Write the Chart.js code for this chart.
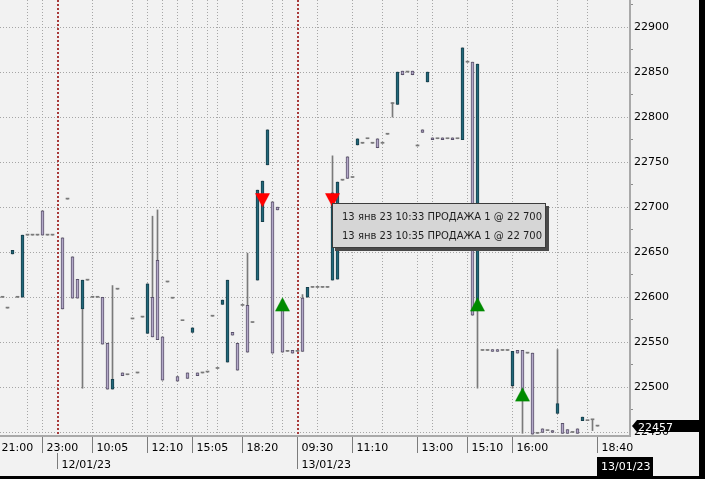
<!DOCTYPE html>
<html>
<head>
<meta charset="utf-8">
<script src="https://cdn.jsdelivr.net/npm/chart.js@4.4.0/dist/chart.umd.min.js"></script>
<style>
  html, body { margin: 0; padding: 0; background: #000; }
  #c { position: absolute; left: 0; top: 0; }
</style>
</head>
<body>
<canvas id="c" width="699" height="476"></canvas>
<script>
// bar slots (5 min bars), 11 has no trades
const barIdx = [0,1,2,3,4,5,6,7,8,9,10,
  12,13,14,15,16,17,18,19,20,21, 22,23,24,25,26,27,28,29,30,31,
  32,33,34,35,36,37,38,39,40,41, 42,43,44,45,46,47,48,49,50,51,
  52,53,54,55,56,57,58,59,60,61, 62,63,64,65,66,67,68,69,70,71,
  72,73,74,75,76,77,78,79,80,81, 82,83,84,85,86,87,88,89,90,91,
  92,93,94,95,96,97,98,99,100,101, 102,103,104,105,106,107,108,109,110,111,
  112,113,114,115,116,117,118,119];

const opens = [22600,22588,22648,22600,22600,22669,22669,22669,22696,22669,22669,
  22666,22709,22645,22620,22587,22619,22600,22600,22600,22549,
  22498,22609,22516,22514,22576,22516,22578,22560,22600,22641,
  22556,22617,22599,22512,22574,22516,22561,22516,22516,22517,
  22579,22521,22592,22528,22561,22549,22591,22591,22572,22619,
  22684,22747,22706,22700,22597,22540,22541,22540,22599,22600,
  22611,22611,22611,22611,22619,22620,22730,22756,22733,22769,
  22771,22776,22771,22776,22771,22781,22815,22814,22851,22850,
  22851,22768,22786,22839,22777,22776,22777,22776,22777,22776,
  22775,22861,22861,22593,22541,22541,22542,22542,22541,22541,
  22502,22541,22541,22538,22538,22449,22454,22452,22452,22471,
  22460,22453,22450,22454,22463,22463,22464,22457];

const highs = [22600,22588,22652,22600,22669,22669,22669,22669,22696,22669,22669,
  22666,22709,22645,22620,22619,22619,22600,22600,22600,22549,
  22613,22609,22516,22514,22576,22516,22578,22615,22690,22697,
  22556,22617,22599,22512,22574,22516,22566,22516,22516,22517,
  22579,22521,22597,22619,22561,22549,22591,22649,22572,22719,
  22729,22786,22706,22700,22597,22540,22541,22540,22603,22611,
  22611,22611,22611,22611,22757,22728,22730,22756,22733,22776,
  22771,22776,22771,22776,22771,22781,22816,22850,22851,22850,
  22851,22768,22786,22850,22777,22776,22777,22776,22777,22776,
  22877,22861,22861,22859,22541,22541,22542,22542,22541,22541,
  22540,22541,22541,22538,22538,22449,22454,22452,22452,22542,
  22460,22453,22450,22454,22467,22463,22464,22457];

const lows = [22600,22588,22648,22600,22600,22669,22669,22669,22669,22669,22669,
  22587,22709,22599,22599,22499,22619,22600,22600,22548,22498,
  22498,22609,22513,22514,22576,22516,22578,22560,22556,22553,
  22508,22617,22599,22507,22574,22510,22561,22513,22516,22517,
  22579,22521,22592,22528,22558,22519,22591,22539,22572,22619,
  22684,22747,22538,22697,22539,22540,22538,22540,22540,22600,
  22611,22611,22611,22611,22619,22620,22730,22732,22733,22769,
  22771,22776,22771,22766,22771,22781,22800,22814,22847,22850,
  22847,22768,22783,22839,22775,22776,22775,22776,22775,22776,
  22775,22861,22580,22499,22541,22541,22540,22540,22541,22541,
  22499,22538,22449,22538,22448,22449,22450,22452,22450,22471,
  22449,22449,22450,22449,22463,22463,22452,22457];

const closes = [22600,22588,22652,22600,22669,22669,22669,22669,22669,22669,22669,
  22587,22709,22599,22599,22619,22619,22600,22600,22548,22498,
  22509,22609,22513,22514,22576,22516,22578,22615,22556,22553,
  22508,22617,22599,22507,22574,22510,22566,22513,22516,22517,
  22579,22521,22597,22619,22558,22519,22591,22539,22572,22719,
  22729,22786,22538,22697,22539,22540,22538,22540,22540,22611,
  22611,22611,22611,22611,22716,22728,22730,22732,22733,22776,
  22771,22776,22771,22766,22771,22781,22815,22850,22847,22850,
  22847,22768,22783,22850,22775,22776,22775,22776,22775,22776,
  22877,22861,22580,22859,22541,22541,22540,22540,22541,22541,
  22540,22538,22497,22538,22448,22449,22450,22452,22450,22482,
  22449,22449,22450,22449,22467,22463,22464,22457];

// trades
const sellIdx = [52, 66];
const sellPrice = [22700, 22700];
const buyIdx = [56, 95, 104];
const buyPrice = [22600, 22600, 22500];
const tradeNotes = ['13 янв 23 10:33 ПРОДАЖА 1 @ 22 700', '13 янв 23 10:35 ПРОДАЖА 1 @ 22 700'];

// axis labels
const timeTickIdx = [-1, 8, 18, 29, 38, 48, 59, 70, 83, 93, 102, 119];
const timeTickText = ['21:00','23:00','10:05','12:10','15:05','18:20','09:30','11:10','13:00','15:10','16:00','18:40'];
const dateTickIdx = [11, 59];
const dateTickText = ['12/01/23', '13/01/23'];
const lastDate = '13/01/23';
const lastPrice = 22457;
const yTicks = [22450,22475,22500,22525,22550,22575,22600,22625,22650,22675,22700,
  22725,22750,22775,22800,22825,22850,22875,22900,22925];
const gridIdx = [5, 8, 18, 26, 29, 32, 35, 38, 41, 43, 48, 54, 56, 63, 70, 76, 83, 86, 93, 102, 111, 117];
const daySplitIdx = [11, 59];

const TEAL = '#22687a', TEAL_EDGE = '#163f4c';
const LILAC = '#b3a8c8', LILAC_EDGE = '#5b536c';
const WICK = '#7a7a7a';

function triangle(up, color) {
  const c = document.createElement('canvas');
  c.width = 15; c.height = 30;
  const g = c.getContext('2d');
  g.fillStyle = color;
  g.beginPath();
  if (up) { g.moveTo(7.5, 15); g.lineTo(15, 29); g.lineTo(0, 29); }
  else { g.moveTo(0, 1); g.lineTo(15, 1); g.lineTo(7.5, 15); }
  g.closePath(); g.fill();
  return c;
}

const dir = i => Math.sign(closes[i] - opens[i]);

const terminal = {
  id: 'terminal',
  beforeDraw(chart) {
    const {ctx, width, height} = chart;
    ctx.save();
    ctx.fillStyle = '#f2f2f2';
    ctx.fillRect(0, 0, width, height);
    ctx.restore();
  },
  beforeDatasetsDraw(chart) {
    const {ctx, chartArea: a, scales: {x}} = chart;
    ctx.save();
    ctx.lineWidth = 1;
    ctx.strokeStyle = '#a6a6a6';
    ctx.setLineDash([1, 2]);
    gridIdx.forEach(i => {
      const px = x.getPixelForValue(i);
      ctx.beginPath(); ctx.moveTo(px, a.top); ctx.lineTo(px, a.bottom); ctx.stroke();
    });
    ctx.lineWidth = 2;
    ctx.strokeStyle = '#a83a3a';
    ctx.setLineDash([2, 2]);
    daySplitIdx.forEach(i => {
      const px = Math.round(x.getPixelForValue(i));
      ctx.beginPath(); ctx.moveTo(px, a.top); ctx.lineTo(px, a.bottom); ctx.stroke();
    });
    ctx.restore();
  },
  afterDatasetsDraw(chart) {
    const {ctx} = chart;
    const bx = 332, by = 203, bw = 214, bh = 45;
    ctx.save();
    ctx.fillStyle = '#4a4a4a';
    ctx.fillRect(bx + 3, by + 3, bw, bh);
    ctx.fillStyle = '#d6d6d6';
    ctx.fillRect(bx, by, bw, bh);
    ctx.strokeStyle = '#3c3c3c';
    ctx.lineWidth = 1;
    ctx.strokeRect(bx + 0.5, by + 0.5, bw - 1, bh - 1);
    ctx.fillStyle = '#1e1e1e';
    ctx.font = '10px "DejaVu Sans"';
    ctx.textBaseline = 'alphabetic';
    tradeNotes.forEach((t, j) => ctx.fillText(t, bx + 10, by + 17 + j * 19));
    ctx.restore();
  },
  afterDraw(chart) {
    const {ctx, chartArea: a, scales: {x, y}} = chart;
    const base = a.bottom + 1;
    ctx.save();
    ctx.font = '11px "DejaVu Sans"';
    ctx.textBaseline = 'alphabetic';
    ctx.lineWidth = 1;
    ctx.strokeStyle = '#7c7c7c';
    ctx.fillStyle = '#000';
    timeTickIdx.forEach((i, j) => {
      const px = x.getPixelForValue(i);
      ctx.beginPath(); ctx.moveTo(px, base); ctx.lineTo(px, base + 16); ctx.stroke();
      ctx.fillText(timeTickText[j], px + 4, base + 14);
    });
    dateTickIdx.forEach((i, j) => {
      const px = x.getPixelForValue(i);
      ctx.beginPath(); ctx.moveTo(px, base + 16); ctx.lineTo(px, base + 32); ctx.stroke();
      ctx.fillText(dateTickText[j], px + 4, base + 31);
    });
    // current date box
    const lx = x.getPixelForValue(timeTickIdx[timeTickIdx.length - 1]) - 0.5;
    ctx.fillStyle = '#000';
    ctx.fillRect(lx, base + 20, 56, 20);
    ctx.fillStyle = '#fff';
    ctx.fillText(lastDate, lx + 4, base + 33);
    // last price tag
    const py = Math.round(y.getPixelForValue(lastPrice));
    ctx.fillStyle = '#000';
    ctx.beginPath();
    ctx.moveTo(a.right + 2, py);
    ctx.lineTo(a.right + 7, py - 6);
    ctx.lineTo(chart.width, py - 6);
    ctx.lineTo(chart.width, py + 6);
    ctx.lineTo(a.right + 7, py + 6);
    ctx.closePath(); ctx.fill();
    ctx.fillStyle = '#fff';
    ctx.fillText(String(lastPrice), a.right + 8, py + 5);
    ctx.restore();
  }
};

Chart.defaults.font.family = '"DejaVu Sans"';

new Chart(document.getElementById('c'), {
  type: 'bar',
  data: {
    datasets: [
      {
        type: 'scatter',
        order: 0,
        data: sellIdx.map((k, j) => ({x: k, y: sellPrice[j]})),
        pointStyle: triangle(false, '#ff0000'),
        pointRadius: 8
      },
      {
        type: 'scatter',
        order: 0,
        data: buyIdx.map((k, j) => ({x: k, y: buyPrice[j]})),
        pointStyle: triangle(true, '#008a00'),
        pointRadius: 8
      },
      {
        order: 1,
        grouped: false,
        barThickness: 3,
        minBarLength: 1,
        borderSkipped: false,
        data: barIdx.map((k, i) => ({x: k, y: [Math.min(opens[i], closes[i]), Math.max(opens[i], closes[i])]})),
        backgroundColor: c => { const d = dir(c.dataIndex); return d > 0 ? TEAL : d < 0 ? LILAC : WICK; },
        borderColor: c => { const d = dir(c.dataIndex); return d > 0 ? TEAL_EDGE : LILAC_EDGE; },
        borderWidth: c => dir(c.dataIndex) === 0 ? 0 : 1
      },
      {
        order: 2,
        grouped: false,
        barThickness: 1,
        borderSkipped: false,
        data: barIdx.map((k, i) => ({x: k, y: [lows[i], highs[i]]})),
        backgroundColor: WICK,
        borderWidth: 0
      }
    ]
  },
  options: {
    responsive: false,
    animation: false,
    devicePixelRatio: 1,
    layout: { padding: 0, autoPadding: false },
    plugins: { legend: { display: false }, tooltip: { enabled: false } },
    scales: {
      x: {
        type: 'linear',
        min: -0.5,
        max: 125.5,
        offset: false,
        afterFit: s => { s.height = 40; s.paddingLeft = 0; s.paddingRight = 0; },
        grid: { display: false, offset: false },
        ticks: { display: false },
        border: { display: true, color: '#a9a9a9', width: 2 }
      },
      y: {
        position: 'right',
        min: 22446,
        max: 22930,
        afterBuildTicks: s => { s.ticks = yTicks.map(v => ({value: v})); },
        afterFit: s => { s.width = 69; s.paddingTop = 0; s.paddingBottom = 0; },
        grid: {
          color: c => c.tick && c.tick.value % 50 === 0 ? '#a6a6a6' : 'rgba(0,0,0,0)',
          tickColor: c => c.tick && c.tick.value % 50 !== 0 ? '#8c8c8c' : 'rgba(0,0,0,0)',
          tickLength: 3,
          lineWidth: 1
        },
        border: { display: true, color: '#a9a9a9', width: 2, dash: [1, 2] },
        ticks: {
          padding: 1,
          color: '#000',
          font: { size: 11 },
          callback: v => v % 50 === 0 ? String(v) : ''
        }
      }
    }
  },
  plugins: [terminal]
});
</script>
</body>
</html>
